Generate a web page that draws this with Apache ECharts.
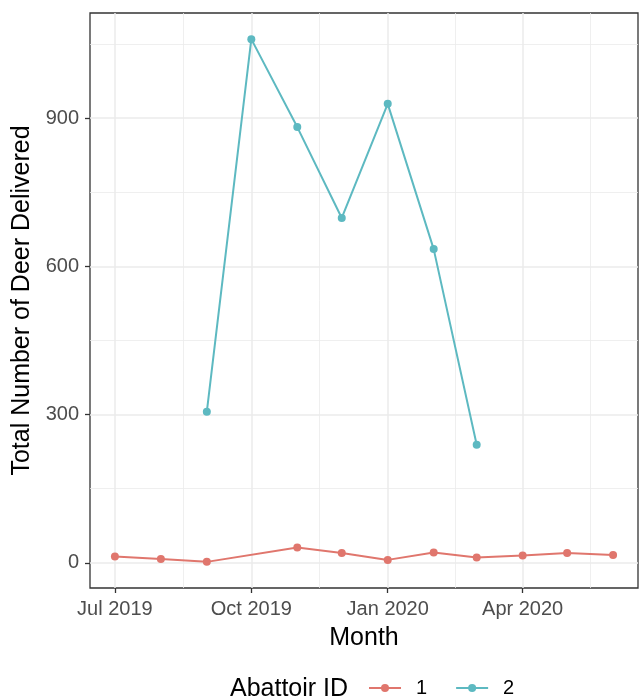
<!DOCTYPE html>
<html>
<head>
<meta charset="utf-8">
<script src="https://cdn.jsdelivr.net/npm/echarts@6/dist/echarts.min.js"></script>
<style>
html,body{margin:0;padding:0;background:#fff;}
#chart{width:641px;height:699px;}
</style>
</head>
<body>
<div id="chart"></div>
<script>
// ---- data ----
const months1 = ['2019-07-01','2019-08-01','2019-09-01','2019-11-01','2019-12-01','2020-01-01','2020-02-01','2020-03-01','2020-04-01','2020-05-01','2020-06-01'];
const values1 = [13, 8, 2, 31, 20, 6, 21, 11, 15, 20, 16];
const months2 = ['2019-09-01','2019-10-01','2019-11-01','2019-12-01','2020-01-01','2020-02-01','2020-03-01'];
const values2 = [306, 1060, 882, 698, 929, 635, 239];
const seriesNames = ['1', '2'];
const xTickDates = ['2019-07-01','2019-10-01','2020-01-01','2020-04-01'];
const xTickLabels = ['Jul 2019','Oct 2019','Jan 2020','Apr 2020'];
const yTicks = [0, 300, 600, 900];
const yMinor = [150, 450, 750, 1050];

const ts = s => Date.parse(s + 'T00:00:00Z');
const s1 = months1.map((m, i) => [ts(m), values1[i]]);
const s2 = months2.map((m, i) => [ts(m), values2[i]]);
const allX = s1.concat(s2).map(p => p[0]);
const allY = s1.concat(s2).map(p => p[1]);
const xLo = Math.min(...allX), xHi = Math.max(...allX);
const yLo = Math.min(...allY), yHi = Math.max(...allY);
const xPad = (xHi - xLo) * 0.05, yPad = (yHi - yLo) * 0.05;

const xMajor = xTickDates.map(ts);
const xMinor = [];
for (let i = 0; i < xMajor.length - 1; i++) xMinor.push((xMajor[i] + xMajor[i + 1]) / 2);
xMinor.push(xMajor[xMajor.length - 1] + (xMajor[xMajor.length - 1] - xMajor[xMajor.length - 2]) / 2);

const FONT = "'Liberation Sans', Arial, sans-serif";
const RED = '#E0766D', TEAL = '#5DB9C1';

const gridLines = [];
xMinor.forEach(v => gridLines.push({xAxis: v, lineStyle: {width: 0.8}}));
yMinor.forEach(v => gridLines.push({yAxis: v, lineStyle: {width: 0.8}}));
xMajor.forEach(v => gridLines.push({xAxis: v, lineStyle: {width: 1.5}}));
yTicks.forEach(v => gridLines.push({yAxis: v, lineStyle: {width: 1.5}}));

const chart = echarts.init(document.getElementById('chart'), null, {renderer: 'canvas'});
chart.setOption({
  animation: false,
  backgroundColor: '#fff',
  textStyle: {fontFamily: FONT},
  grid: {left: 90, top: 13, right: 3, bottom: 111, show: true, borderColor: '#333333', borderWidth: 1.3, backgroundColor: '#fff', containLabel: false},
  xAxis: {
    type: 'value', min: xLo - xPad, max: xHi + xPad,
    axisLine: {show: false, onZero: false},
    splitLine: {show: false},
    axisTick: {show: true, length: 5, lineStyle: {color: '#333333', width: 1.3}, customValues: xMajor},
    axisLabel: {customValues: xMajor, color: '#4D4D4D', fontSize: 20, fontFamily: FONT, margin: 11,
      formatter: v => { const i = xMajor.indexOf(v); return i >= 0 ? xTickLabels[i] : ''; }},
    name: 'Month', nameLocation: 'middle', nameGap: 38,
    nameTextStyle: {color: '#000', fontSize: 25, fontFamily: FONT}
  },
  yAxis: {
    type: 'value', min: yLo - yPad, max: yHi + yPad,
    axisLine: {show: false, onZero: false},
    splitLine: {show: false},
    axisTick: {show: true, length: 5, lineStyle: {color: '#333333', width: 1.3}, customValues: yTicks},
    axisLabel: {customValues: yTicks, color: '#4D4D4D', fontSize: 20, fontFamily: FONT, margin: 11},
    name: 'Total Number of Deer Delivered', nameLocation: 'middle', nameGap: 51,
    nameTextStyle: {color: '#000', fontSize: 25, fontFamily: FONT}
  },
  legend: {
    data: seriesNames, left: 363, top: 673, itemWidth: 32, itemHeight: 10, itemGap: 28,
    textStyle: {color: '#000', fontSize: 20, fontFamily: FONT, padding: [0, 0, 0, 10]}
  },
  graphic: [{type: 'text', left: 230, top: 677, style: {text: 'Abattoir ID', fill: '#000', font: "25px 'Liberation Sans', Arial, sans-serif"}}],
  series: [
    {name: 'grid', type: 'line', data: [], silent: true, z: 1,
      markLine: {silent: true, z: 1, symbol: ['none', 'none'], label: {show: false}, animation: false,
        lineStyle: {color: '#EBEBEB', type: 'solid'}, emphasis: {disabled: true}, data: gridLines}},
    {name: seriesNames[0], type: 'line', data: s1, symbol: 'circle', symbolSize: 8,
      itemStyle: {color: RED}, lineStyle: {color: RED, width: 2}, z: 3},
    {name: seriesNames[1], type: 'line', data: s2, symbol: 'circle', symbolSize: 8,
      itemStyle: {color: TEAL}, lineStyle: {color: TEAL, width: 2}, z: 3}
  ]
});
</script>
</body>
</html>
